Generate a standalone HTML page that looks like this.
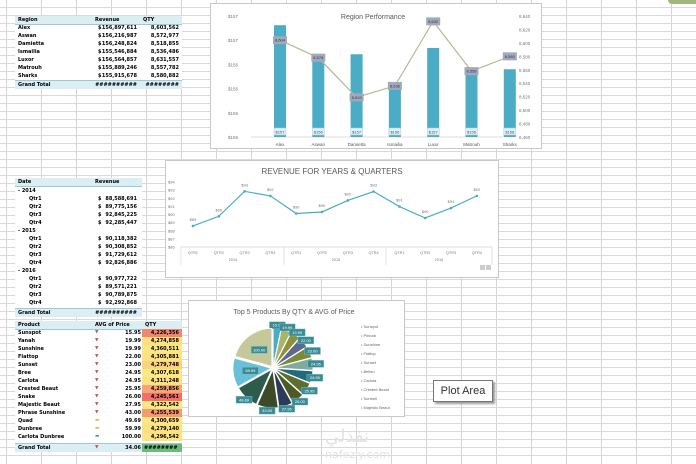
<!DOCTYPE html>
<html><head><meta charset="utf-8">
<style>
html,body{margin:0;padding:0}
body{width:696px;height:458px;position:relative;overflow:hidden;background:#fff;
background-image:repeating-linear-gradient(to bottom,transparent 0,transparent 7px,#d9d9d9 7px,#d9d9d9 8px),
repeating-linear-gradient(to right,transparent 0,transparent 6px,#d4d4d4 6px,#d4d4d4 7px,transparent 7px,transparent 35px);
font-family:"Liberation Sans",sans-serif}
.tbl{position:absolute;background:#fff;font-family:"DejaVu Sans",sans-serif;font-weight:bold;font-size:5px;color:#000}
.r{position:absolute;left:0;right:0;height:8px;line-height:8px;white-space:nowrap}
.hd{background:#dbeef4;border-bottom:1px solid #9cc9d6}
.gt{background:#dbeef4;border-top:1px solid #9cc9d6}
.c{position:absolute}
.box{position:absolute;background:#fff;border:1px solid #c8c8c8}
svg text{font-family:"Liberation Sans",sans-serif}
</style></head><body>

<div class="tbl" style="left:15px;top:16px;width:167px;height:73px" id="t1"></div>
<div class="tbl" style="left:15px;top:178px;width:127px;height:138px" id="t2"></div>
<div class="tbl" style="left:15px;top:321px;width:167px;height:131px" id="t3"></div>

<div class="box" style="left:210px;top:3px;width:330px;height:144px"><svg id="c1" width="330" height="144"></svg></div>
<div class="box" style="left:165px;top:160px;width:332px;height:116px"><svg id="c2" width="332" height="116"></svg></div>
<div class="box" style="left:188px;top:300px;width:215px;height:115px"><svg id="c3" width="215" height="115"></svg></div>

<div style="position:absolute;left:433px;top:380px;width:58px;height:20px;border:1px solid #777;background:#fff;box-shadow:2px 2px 2px #999;font-size:11px;line-height:20px;text-align:center;color:#333">Plot Area</div>
<div style="position:absolute;left:668px;top:0;width:28px;height:4px;border-radius:0 0 0 28px;background:#9fb77a"></div>
<div style="position:absolute;left:325px;top:428px;width:80px;font-size:18px;color:#e2e2e2;font-family:'DejaVu Sans',sans-serif;line-height:18px">نفذلي<div style="font-size:11px">nafezly.com</div></div>

<script>
const NS='http://www.w3.org/2000/svg';
function mk(p,t,a,txt){const e=document.createElementNS(NS,t);for(const k in a)e.setAttribute(k,a[k]);if(txt!==undefined)e.textContent=txt;p.appendChild(e);return e;}
function row(tbl,top,cls,cells){const r=document.createElement('div');r.className='r '+(cls||'');r.style.top=top+'px';


cells.forEach(c=>{const d=document.createElement('div');d.className='c';d.textContent=c[0];if(c[1]!==null)d.style.left=c[1]+'px';if(c[2])d.style.cssText+=c[2];r.appendChild(d);});tbl.appendChild(r);}

// table 1
const regions=['Alex','Aswan','Damietta','Ismailia','Luxor','Matrouh','Sharks'];
const regRevText=['156,897,611','156,216,987','156,248,824','155,546,884','156,564,857','155,889,246','155,915,678'];
const regQtyText=['8,603,562','8,572,977','8,518,855','8,536,486','8,631,557','8,557,782','8,580,882'];
const t1=document.getElementById('t1');
row(t1,0,'hd',[['Region',3],['Revenue',80],['QTY',128]]);
regions.forEach((n,i)=>row(t1,8+i*8,'',[[n,3],['$',83],[regRevText[i],null,'right:45px'],[regQtyText[i],null,'right:3px']]));
row(t1,64,'gt',[['Grand Total',3],['##########',null,'right:45px'],['########',null,'right:3px']]);

// table 2
const t2=document.getElementById('t2');
const qRev=[['88,588,691','89,775,156','92,845,225','92,285,447'],['90,118,382','90,308,852','91,729,612','92,826,886'],['90,977,722','89,571,221','90,789,875','92,292,868']];
row(t2,0,'hd',[['Date',3],['Revenue',80]]);
let y=9;['2014','2015','2016'].forEach((yr,i)=>{row(t2,y,'',[['- '+yr,3]]);y+=8;qRev[i].forEach((v,j)=>{row(t2,y,'',[['Qtr'+(j+1),14],['$',83],[v,null,'right:5px']]);y+=8;});});
row(t2,130,'gt',[['Grand Total',3],['##########',null,'right:5px']]);

// table 3
const products=['Sunspot','Yanah','Sunshine','Flattop','Sunset','Bree','Carlota','Crested Beaut','Snake','Majestic Beaut','Phrase Sunshine','Quad','Dunbree','Carlota Dunbree'];
const prices=[15.95,19.99,19.99,22.00,23.00,24.95,24.95,25.95,26.00,27.95,43.00,49.69,59.99,100.00];
const pQty=['4,226,356','4,274,858','4,360,511','4,305,881','4,279,748','4,307,618','4,311,248','4,259,856','4,245,561','4,322,542','4,255,539','4,300,659','4,279,140','4,296,542'];
const qColors=['#f4856e','#fde080','#fde784','#fde27f','#fcd27c','#fee985','#fee283','#f8a474','#f26f6a','#fde784','#f79a72','#fee684','#fde080','#fde482'];
const t3=document.getElementById('t3');
row(t3,0,'hd',[['Product',3],['AVG of Price',80],['QTY',130]]);
products.forEach((n,i)=>{const ic=i<11?'▼':'▬';const col=i<11?'#c0504d':(i<13?'#e0b040':'#4aa080');
row(t3,8+i*8,'',[[n,3],[ic,80,'color:'+col+';font-size:4.5px'],[prices[i].toFixed(2),null,'right:41px'],[pQty[i],127,'background:'+qColors[i]+';width:37px;text-align:right;padding-right:3px']]);});
row(t3,122,'gt',[['Grand Total',3],['▼',80,'color:#c0504d;font-size:4.5px'],['34.06',null,'right:41px'],['########',127,'background:#6bbb7b;width:38px;padding-left:2px']]);

// chart 1 region performance
const revM=[157.11,156.49,156.51,155.90,156.64,156.14,156.20];
const qty=[8604,8578,8519,8536,8632,8558,8580];
const leftTicks=['$155','$155','$156','$156','$157','$157'];
const rightTicks=['8,460','8,480','8,500','8,520','8,540','8,560','8,580','8,600','8,620','8,640'];
(function(){const s=document.getElementById('c1');
const base=133,top=12,lmin=154.8,lmax=157.3,rmin=8460,rmax=8640;
const yl=v=>base-(v-lmin)/(lmax-lmin)*(base-top);
const yr=v=>base-(v-rmin)/(rmax-rmin)*(base-top);
const x=i=>69+i*38.3;
mk(s,'text',{x:162,y:15,'font-size':7,fill:'#595959','text-anchor':'middle'},'Region Performance');
leftTicks.forEach((t,i)=>mk(s,'text',{x:27,y:base-i*(base-top)/5+2,'font-size':4.5,fill:'#777','text-anchor':'end'},t));
rightTicks.forEach((t,i)=>mk(s,'text',{x:308,y:base-i*(base-top)/9+2,'font-size':4.5,fill:'#777'},t));
mk(s,'line',{x1:40,x2:292,y1:base,y2:base,stroke:'#d0d0d0','stroke-width':0.7});
revM.forEach((v,i)=>{const b=mk(s,'rect',{x:x(i)-6,y:yl(v),width:12,height:base-yl(v),fill:'#4bacc6'});


mk(s,'rect',{x:x(i)-6,y:base-9,width:12,height:7,fill:'#dff0f4',stroke:'#a8d0da','stroke-width':0.5});
mk(s,'text',{x:x(i),y:base-3.5,'font-size':4,fill:'#555','text-anchor':'middle'},'$'+Math.round(revM[i]));
mk(s,'text',{x:x(i),y:base+9,'font-size':4.5,fill:'#555','text-anchor':'middle'},regions[i]);});
mk(s,'polyline',{points:qty.map((v,i)=>x(i)+','+yr(v)).join(' '),fill:'none',stroke:'#b7b995','stroke-width':1.2});
qty.forEach((v,i)=>{mk(s,'rect',{x:x(i)-7,y:yr(v)-4,width:14,height:8,fill:'#a3a9bb'});
mk(s,'text',{x:x(i),y:yr(v)+1.5,'font-size':4,fill:'#334','text-anchor':'middle'},v.toLocaleString('en-US'));});
})();

// chart 2 revenue line
const quarters=['QTR1','QTR2','QTR3','QTR4','QTR1','QTR2','QTR3','QTR4','QTR1','QTR2','QTR3','QTR4'];
const years=['2014','2015','2016'];
const revQ=[88.59,89.78,92.85,92.29,90.12,90.31,91.73,92.83,90.98,89.57,90.79,92.29];
const yTicks2=['$86','$87','$88','$89','$90','$91','$92','$93','$94'];
(function(){const s=document.getElementById('c2');
const y0=86,y1=94,by=86,ty=21;const yv=v=>by-(v-y0)/(y1-y0)*(by-ty);const x=i=>27+i*25.8;
mk(s,'text',{x:166,y:13,'font-size':8,fill:'#595959','text-anchor':'middle'},'REVENUE FOR YEARS & QUARTERS');
yTicks2.forEach((t,i)=>mk(s,'text',{x:2,y:yv(y0+i)+1.5,'font-size':4,fill:'#777'},t));
mk(s,'line',{x1:15,x2:326,y1:by,y2:by,stroke:'#d0d0d0','stroke-width':0.7});
[15,118,220,326].forEach(xx=>mk(s,'line',{x1:xx,x2:xx,y1:by,y2:by+18,stroke:'#d0d0d0','stroke-width':0.6}));
quarters.forEach((q,i)=>mk(s,'text',{x:x(i),y:by+7,'font-size':3.8,fill:'#777','text-anchor':'middle'},q));
years.forEach((t,i)=>mk(s,'text',{x:67+i*103,y:by+14,'font-size':3.8,fill:'#777','text-anchor':'middle'},t));
mk(s,'polyline',{points:revQ.map((v,i)=>x(i)+','+yv(v)).join(' '),fill:'none',stroke:'#4bacc6','stroke-width':1.2});
revQ.forEach((v,i)=>{const c=mk(s,'circle',{cx:x(i),cy:yv(v),r:1.3,fill:'#4bacc6'});


mk(s,'text',{x:x(i),y:yv(v)-5,'font-size':4,fill:'#777','text-anchor':'middle'},'$'+Math.round(v));});
mk(s,'rect',{x:314,y:104,width:5,height:5,fill:'#ccc'});mk(s,'rect',{x:320,y:104,width:5,height:5,fill:'#ccc'});
})();

// chart 3 pie
const pieColors=['#4bacc6','#a9b46a','#8e9040','#5e6a8c','#7a8a3a','#82aa9c','#1f6b7a','#5f6e2c','#4c5a26','#2c3a58','#3c4a2a','#2d5c4c','#6ac0d8','#c4c89a'];
const legendNames=['Sunspot','Pinnab','Sunshine','Flattop','Sunset','Bellen','Carlota','Crested Beaut','Sunbell','Majestic Beaut'];
(function(){const s=document.getElementById('c3');
mk(s,'text',{x:105,y:13,'font-size':7,fill:'#595959','text-anchor':'middle'},'Top 5 Products By QTY & AVG of Price');
const cx=84,cy=67,R=38;const tot=prices.reduce((a,b)=>a+b,0);let a=-Math.PI/2;
prices.forEach((v,i)=>{const da=v/tot*2*Math.PI;const m=a+da/2;const ex=2;const ox=cx+Math.cos(m)*ex,oy=cy+Math.sin(m)*ex;
const p=`M${ox},${oy} L${ox+R*Math.cos(a)},${oy+R*Math.sin(a)} A${R},${R} 0 ${da>Math.PI?1:0} 1 ${ox+R*Math.cos(a+da)},${oy+R*Math.sin(a+da)} Z`;
const sl=mk(s,'path',{d:p,fill:pieColors[i],stroke:'#fff','stroke-width':0.8});


const lr=(v>50?R*0.6:R+5);const lx=cx+Math.cos(m)*lr,ly=cy+Math.sin(m)*lr;
mk(s,'rect',{x:lx-8,y:ly-3.5,width:16,height:7,fill:'#3b8a94',stroke:'#7cc','stroke-width':0.4});
mk(s,'text',{x:lx,y:ly+1.5,'font-size':4,fill:'#fff','text-anchor':'middle'},v.toFixed(2));
a+=da;});
legendNames.forEach((n,i)=>mk(s,'text',{x:172,y:27+i*9,'font-size':4,fill:'#666'},'• '+n));
})();
</script>
</body></html>
